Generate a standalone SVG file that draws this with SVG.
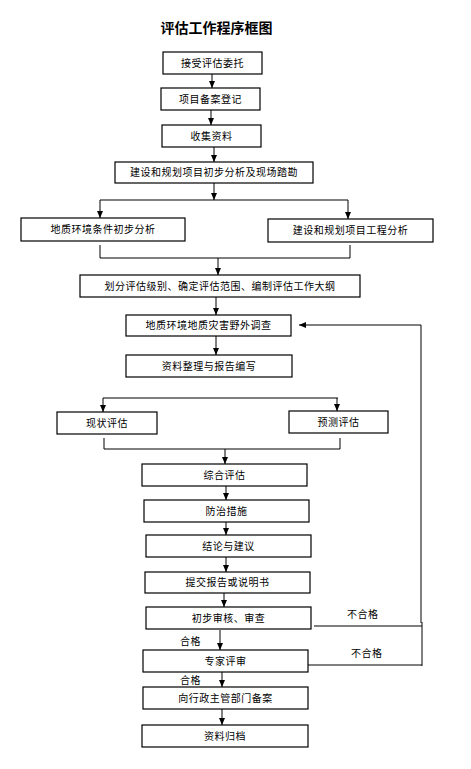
<svg xmlns="http://www.w3.org/2000/svg" width="471" height="769" viewBox="0 0 471 769">
<style>
.box{fill:#fff;stroke:#000;stroke-width:1.2}
.ln{fill:none;stroke:#000;stroke-width:1}
.t{font-family:"Liberation Sans","Noto Sans CJK SC",sans-serif;font-size:10px;letter-spacing:0.5px;fill:#000;text-anchor:middle}
.lbl{font-family:"Liberation Sans","Noto Sans CJK SC",sans-serif;font-size:10px;letter-spacing:0.5px;fill:#000}
.title{font-family:"Liberation Sans","Noto Sans CJK SC",sans-serif;font-size:14px;font-weight:bold;fill:#000;text-anchor:middle}
</style>
<defs>
<marker id="ah" markerUnits="userSpaceOnUse" markerWidth="7" markerHeight="6" refX="7" refY="3" orient="auto">
<path d="M0,0 L7,3 L0,6 z" fill="#000"/>
</marker>
</defs>
<rect width="471" height="769" fill="#fff"/>
<text class="title" x="216.5" y="33">评估工作程序框图</text>

<g id="connectors">
<line class="ln" x1="212" y1="74" x2="212" y2="88" marker-end="url(#ah)"/>
<line class="ln" x1="211" y1="110" x2="211" y2="125" marker-end="url(#ah)"/>
<line class="ln" x1="214" y1="147" x2="214" y2="162" marker-end="url(#ah)"/>
<line class="ln" x1="214" y1="183" x2="214" y2="200" marker-end="url(#ah)"/>
<line class="ln" x1="100" y1="200" x2="348" y2="200"/>
<line class="ln" x1="100" y1="200" x2="100" y2="218" marker-end="url(#ah)"/>
<line class="ln" x1="348" y1="200" x2="348" y2="219" marker-end="url(#ah)"/>
<polyline class="ln" points="100,245 100,258 350,258 350,245"/>
<line class="ln" x1="218" y1="258" x2="218" y2="275" marker-end="url(#ah)"/>
<line class="ln" x1="216" y1="297" x2="216" y2="315" marker-end="url(#ah)"/>
<line class="ln" x1="216" y1="336" x2="216" y2="355" marker-end="url(#ah)"/>
<polyline class="ln" points="421,623 421,325 299,325" marker-end="url(#ah)"/>
<line class="ln" x1="422" y1="622" x2="422" y2="666"/>
<line class="ln" x1="314" y1="626" x2="422" y2="626"/>
<line class="ln" x1="308" y1="665" x2="422" y2="665"/>
<line class="ln" x1="103" y1="398" x2="338" y2="398"/>
<line class="ln" x1="103" y1="398" x2="103" y2="412" marker-end="url(#ah)"/>
<line class="ln" x1="337" y1="398" x2="337" y2="411" marker-end="url(#ah)"/>
<polyline class="ln" points="104,438 104,449 340,449 340,438"/>
<line class="ln" x1="225" y1="449" x2="225" y2="464" marker-end="url(#ah)"/>
<line class="ln" x1="226" y1="486" x2="226" y2="500" marker-end="url(#ah)"/>
<line class="ln" x1="226" y1="522" x2="226" y2="535" marker-end="url(#ah)"/>
<line class="ln" x1="226" y1="557" x2="226" y2="572" marker-end="url(#ah)"/>
<line class="ln" x1="224" y1="593" x2="224" y2="607" marker-end="url(#ah)"/>
<line class="ln" x1="220" y1="630" x2="220" y2="650" marker-end="url(#ah)"/>
<line class="ln" x1="222" y1="672" x2="222" y2="687" marker-end="url(#ah)"/>
<line class="ln" x1="222" y1="709" x2="222" y2="725" marker-end="url(#ah)"/>
<text class="lbl" x="347" y="617.5">不合格</text>
<text class="lbl" x="351" y="656.5">不合格</text>
<text class="lbl" x="180" y="644.5">合格</text>
<text class="lbl" x="180" y="683.5">合格</text>
</g>

<g id="n1"><rect class="box" x="163" y="52" width="99" height="22"/><text class="t" x="212.5" y="66.5">接受评估委托</text></g>
<g id="n2"><rect class="box" x="161" y="88" width="99" height="22"/><text class="t" x="210.5" y="102.5">项目备案登记</text></g>
<g id="n3"><rect class="box" x="162" y="125" width="99" height="22"/><text class="t" x="211.5" y="139.5">收集资料</text></g>
<g id="n4"><rect class="box" x="115" y="162" width="198" height="21"/><text class="t" x="214" y="176">建设和规划项目初步分析及现场踏勘</text></g>
<g id="n5"><rect class="box" x="21" y="218" width="164" height="23"/><text class="t" x="103" y="233">地质环境条件初步分析</text></g>
<g id="n6"><rect class="box" x="268" y="219" width="165" height="23"/><text class="t" x="350.5" y="234">建设和规划项目工程分析</text></g>
<g id="n7"><rect class="box" x="80" y="275" width="280" height="22"/><text class="t" x="220" y="289.5">划分评估级别、确定评估范围、编制评估工作大纲</text></g>
<g id="n8"><rect class="box" x="126" y="315" width="165" height="21"/><text class="t" x="208.5" y="329">地质环境地质灾害野外调查</text></g>
<g id="n9"><rect class="box" x="126" y="355" width="166" height="22"/><text class="t" x="209" y="369.5">资料整理与报告编写</text></g>
<g id="n10"><rect class="box" x="57" y="412" width="100" height="22"/><text class="t" x="107" y="426.5">现状评估</text></g>
<g id="n11"><rect class="box" x="289" y="411" width="99" height="22"/><text class="t" x="338.5" y="425.5">预测评估</text></g>
<g id="n12"><rect class="box" x="142" y="464" width="165" height="22"/><text class="t" x="224.5" y="478.5">综合评估</text></g>
<g id="n13"><rect class="box" x="144" y="500" width="165" height="22"/><text class="t" x="226.5" y="514.5">防治措施</text></g>
<g id="n14"><rect class="box" x="146" y="535" width="165" height="22"/><text class="t" x="228.5" y="549.5">结论与建议</text></g>
<g id="n15"><rect class="box" x="145" y="572" width="165" height="21"/><text class="t" x="227.5" y="586">提交报告或说明书</text></g>
<g id="n16"><rect class="box" x="146" y="607" width="165" height="22"/><text class="t" x="228.5" y="621.5">初步审核、审查</text></g>
<g id="n17"><rect class="box" x="143" y="650" width="165" height="22"/><text class="t" x="225.5" y="664.5">专家评审</text></g>
<g id="n18"><rect class="box" x="143" y="687" width="165" height="22"/><text class="t" x="225.5" y="701.5">向行政主管部门备案</text></g>
<g id="n19"><rect class="box" x="142" y="725" width="166" height="22"/><text class="t" x="225" y="739.5">资料归档</text></g>
</svg>
